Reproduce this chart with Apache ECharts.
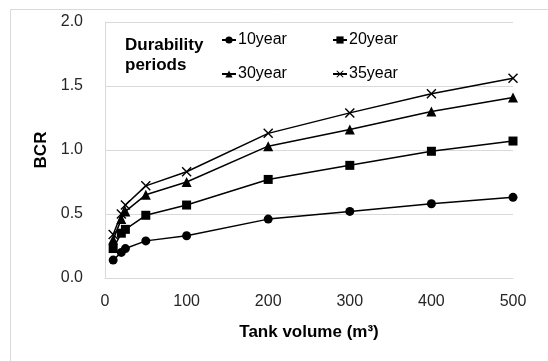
<!DOCTYPE html>
<html>
<head>
<meta charset="utf-8">
<script src="https://cdn.jsdelivr.net/npm/echarts@6/dist/echarts.min.js"></script>
<style>html,body{margin:0;padding:0;background:#fff;}#c{width:548px;height:361px;}</style>
</head>
<body>
<div id="c"></div>
<script>
const volumes = [10, 20, 25, 50, 100, 200, 300, 400, 500];
const bcr10 = [0.14, 0.20, 0.23, 0.29, 0.33, 0.46, 0.52, 0.58, 0.63];
const bcr20 = [0.23, 0.35, 0.38, 0.49, 0.57, 0.77, 0.88, 0.99, 1.07];
const bcr30 = [0.30, 0.46, 0.52, 0.65, 0.75, 1.03, 1.16, 1.30, 1.41];
const bcr35 = [0.34, 0.50, 0.57, 0.72, 0.83, 1.13, 1.29, 1.44, 1.56];
const seriesNames = ['10year', '20year', '30year', '35year'];
const xTicks = [0, 100, 200, 300, 400, 500];
const yTicks = [0.0, 0.5, 1.0, 1.5, 2.0];

const crossPath = 'path://M0,1 L1,0 L5,4 L9,0 L10,1 L6,5 L10,9 L9,10 L5,6 L1,10 L0,9 L4,5 Z';
const symbols = ['circle', 'rect', 'triangle', crossPath];
const symbolSizes = [9, 9, 10, 10];
const allData = [bcr10, bcr20, bcr30, bcr35];
const font = 'Arial, "Liberation Sans", sans-serif';

const chart = echarts.init(document.getElementById('c'));
const legendPos = [[221, 32], [332, 32], [221, 66], [332, 66]];
chart.setOption({
  backgroundColor: '#fff',
  animation: false,
  textStyle: { fontFamily: font },
  graphic: [{
    type: 'rect', left: 8, top: 7, shape: { width: 700, height: 500 },
    style: { fill: 'none', stroke: '#d9d9d9', lineWidth: 1 }, z: -1
  }],
  title: {
    text: 'Durability\nperiods', left: 120, top: 30,
    textStyle: { fontSize: 17, fontWeight: 'bold', color: '#000', lineHeight: 20, fontFamily: font }
  },
  legend: seriesNames.map((n, i) => ({
    data: [n], left: legendPos[i][0], top: legendPos[i][1], itemWidth: 14, itemHeight: 9,
    padding: 0, selectedMode: false,
    textStyle: { fontSize: 16, color: '#000', fontFamily: font, padding: [0, 0, 0, -3] }
  })),
  grid: { left: 105, right: 35, top: 22, bottom: 83 },
  xAxis: {
    type: 'value', min: 0, max: 500, interval: 100,
    name: 'Tank volume (m³)', nameLocation: 'middle', nameGap: 46,
    nameTextStyle: { fontSize: 17, fontWeight: 'bold', color: '#000', fontFamily: font },
    axisLine: { show: true, lineStyle: { color: '#d9d9d9' } },
    axisTick: { show: false },
    splitLine: { show: false },
    axisLabel: { fontSize: 16, color: '#262626', margin: 16, fontFamily: font,
      formatter: v => xTicks.includes(v) ? String(v) : '' }
  },
  yAxis: {
    type: 'value', min: 0, max: 2, interval: 0.5,
    name: 'BCR', nameLocation: 'middle', nameGap: 53, nameRotate: 90,
    nameTextStyle: { fontSize: 17, fontWeight: 'bold', color: '#000', fontFamily: font },
    axisLine: { show: true, lineStyle: { color: '#d9d9d9' } },
    axisTick: { show: false },
    splitLine: { show: true, lineStyle: { color: '#d9d9d9' } },
    axisLabel: { fontSize: 16, color: '#262626', margin: 22, fontFamily: font,
      formatter: v => yTicks.find(t => Math.abs(t - v) < 1e-9) !== undefined ? v.toFixed(1) : '' }
  },
  series: seriesNames.map((n, i) => ({
    name: n, type: 'line',
    data: volumes.map((v, j) => [v, allData[i][j]]),
    symbol: symbols[i], symbolSize: symbolSizes[i],
    lineStyle: { color: '#000', width: 1.5 },
    itemStyle: { color: '#000' },
    showAllSymbol: true
  }))
});
</script>
</body>
</html>
